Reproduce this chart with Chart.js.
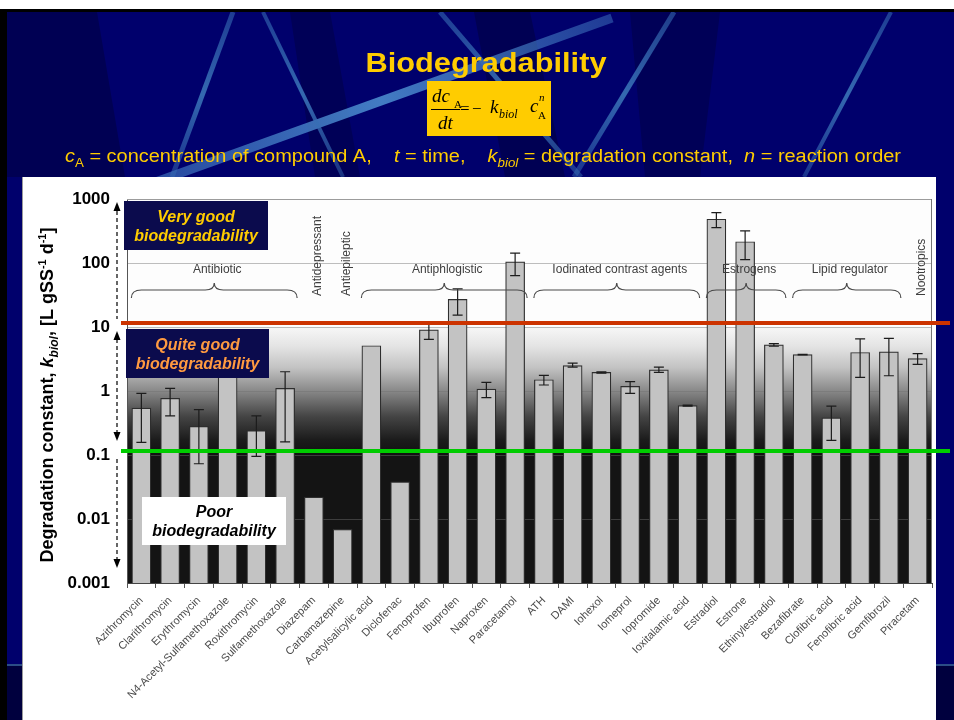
<!DOCTYPE html>
<html>
<head>
<meta charset="utf-8">
<script src="https://cdn.jsdelivr.net/npm/chart.js@4/dist/chart.umd.min.js"></script>
<style>
  html, body { margin: 0; padding: 0; background: #fff; }
  canvas { display: block; }
</style>
</head>
<body>
<canvas id="slide" width="954" height="720"></canvas>
<script>
const SANS = "Arial, 'Liberation Sans', Helvetica, sans-serif";
const SERIF = "'Times New Roman', 'Liberation Serif', serif";

const compounds = [
  "Azithromycin", "Clarithromycin", "Erythromycin", "N4-Acetyl-Sulfamethoxazole",
  "Roxithromycin", "Sulfamethoxazole", "Diazepam", "Carbamazepine",
  "Acetylsalicylic acid", "Diclofenac", "Fenoprofen", "Ibuprofen", "Naproxen",
  "Paracetamol", "ATH", "DAMI", "Iohexol", "Iomeprol", "Iopromide",
  "Ioxitalamic acid", "Estradiol", "Estrone", "Ethinylestradiol", "Bezafibrate",
  "Clofibric acid", "Fenofibric acid", "Gemfibrozil", "Piracetam",
];
// k_biol in L gSS-1 d-1
const kBiol = [
  0.54, 0.77, 0.28, 5.0, 0.24, 1.1, 0.022, 0.0069,
  5.1, 0.038, 9.0, 27, 1.07, 104, 1.5, 2.5, 1.95, 1.18, 2.14,
  0.59, 483, 215, 5.25, 3.7, 0.38, 4.0, 4.1, 3.2,
];
const errLow = [
  0.157, 0.41, 0.073, null, 0.095, 0.16, null, null,
  null, null, 6.4, 15.3, 0.79, 63.6, 1.24, 2.36, 1.9, 0.92, 1.95,
  0.58, 358, 113, 5.0, 3.65, 0.169, 1.63, 1.73, 2.6,
];
const errHigh = [
  0.92, 1.1, 0.51, null, 0.41, 2.0, null, null,
  null, null, 12, 39.5, 1.36, 143, 1.75, 2.72, 2.0, 1.4, 2.36,
  0.6, 614, 318, 5.5, 3.75, 0.58, 6.5, 6.65, 3.85,
];

const groupNames = [
  "Antibiotic", "Antidepressant", "Antiepileptic", "Antiphlogistic",
  "Iodinated contrast agents", "Estrogens", "Lipid regulator", "Nootropics",
];
const groupFirst = [0, 6, 7, 8, 14, 20, 23, 27];
const groupLast = [5, 6, 7, 13, 19, 22, 26, 27];

const yTicks = [0.001, 0.01, 0.1, 1, 10, 100, 1000];
const yTickLabels = ["0.001", "0.01", "0.1", "1", "10", "100", "1000"];
const thresholds = [10, 0.1];

// ---------- drawing helpers ----------
function drawRuns(ctx, runs, x, y, align, width) {
  let total = 0;
  runs.forEach(r => {
    ctx.font = r.font;
    r.w = ctx.measureText(r.text).width;
    total += r.w;
  });
  const sx = width ? width / total : 1;
  ctx.save();
  ctx.translate(x, y);
  ctx.scale(sx, 1);
  ctx.textAlign = "left";
  ctx.textBaseline = "alphabetic";
  let cx = align === "center" ? -total / 2 : 0;
  runs.forEach(r => {
    ctx.font = r.font;
    ctx.fillText(r.text, cx, r.dy || 0);
    cx += r.w;
  });
  ctx.restore();
}

function streak(ctx, x1, y1, x2, y2, w, color) {
  const g = ctx.createLinearGradient(x1, y1, x2, y2);
  g.addColorStop(0, color.replace("A", "0.55"));
  g.addColorStop(0.5, color.replace("A", "0.95"));
  g.addColorStop(1, color.replace("A", "0.45"));
  ctx.strokeStyle = g;
  ctx.lineWidth = w;
  ctx.lineCap = "butt";
  ctx.beginPath();
  ctx.moveTo(x1, y1);
  ctx.lineTo(x2, y2);
  ctx.stroke();
}

function facet(ctx, pts, fill) {
  ctx.fillStyle = fill;
  ctx.beginPath();
  pts.forEach(([x, y], i) => (i ? ctx.lineTo(x, y) : ctx.moveTo(x, y)));
  ctx.closePath();
  ctx.fill();
}

function drawBackdrop(ctx) {
  ctx.fillStyle = "#00006c";
  ctx.fillRect(0, 0, 954, 720);
  facet(ctx, [[7, 12], [97, 12], [125, 177], [7, 177]], "rgba(0,0,25,0.3)");
  facet(ctx, [[290, 12], [330, 12], [360, 177], [315, 177]], "rgba(0,0,25,0.25)");
  facet(ctx, [[474, 12], [530, 12], [565, 177], [505, 177]], "rgba(0,0,25,0.3)");
  facet(ctx, [[630, 12], [720, 12], [700, 177], [645, 177]], "rgba(0,0,25,0.25)");

  streak(ctx, 150, 184, 612, 18, 9, "rgba(70,130,200,A)");
  streak(ctx, 233, 12, 172, 177, 5, "rgba(55,110,180,A)");
  streak(ctx, 263, 12, 343, 177, 4, "rgba(55,110,180,A)");
  streak(ctx, 440, 12, 581, 177, 5, "rgba(55,110,180,A)");
  streak(ctx, 674, 12, 574, 177, 5, "rgba(55,110,180,A)");
  streak(ctx, 891, 12, 804, 177, 4, "rgba(55,110,180,A)");

  // lower edge strips
  ctx.fillStyle = "#00003e";
  ctx.fillRect(7, 666, 947, 54);
  ctx.fillStyle = "#2b4d86";
  ctx.fillRect(7, 664, 947, 2);

  ctx.fillStyle = "#ffffff";
  ctx.fillRect(0, 0, 954, 9);
  ctx.fillStyle = "#000000";
  ctx.fillRect(0, 9, 954, 3);
  ctx.fillRect(0, 9, 7, 711);
}

function drawPanel(ctx) {
  ctx.fillStyle = "#ffffff";
  ctx.fillRect(22, 177, 914, 543);
  ctx.fillStyle = "#9a9a9a";
  ctx.fillRect(22, 177, 1, 543);
}

function drawPlotShade(ctx, chart) {
  const a = chart.chartArea, y = chart.scales.y;
  const p10 = y.getPixelForValue(10), p01 = y.getPixelForValue(0.1);
  const g = ctx.createLinearGradient(0, p10, 0, p01);
  g.addColorStop(0, "#f7f7f7");
  g.addColorStop(0.15, "#e4e4e4");
  g.addColorStop(0.32, "#c2c2c2");
  g.addColorStop(0.5, "#888888");
  g.addColorStop(0.7, "#444444");
  g.addColorStop(0.88, "#1c1c1c");
  g.addColorStop(1, "#111111");
  ctx.fillStyle = "#fdfdfd";
  ctx.fillRect(a.left, a.top, a.width, p10 - a.top);
  ctx.fillStyle = g;
  ctx.fillRect(a.left, p10, a.width, p01 - p10);
  ctx.fillStyle = "#141414";
  ctx.fillRect(a.left, p01, a.width, a.bottom - p01);
}

function drawFrame(ctx, chart) {
  const a = chart.chartArea;
  ctx.fillStyle = "#9c9c9c";
  ctx.fillRect(a.left, a.top, a.width, 1);
  ctx.fillStyle = "#777777";
  ctx.fillRect(a.right - 1, a.top, 1, a.height);
}

function drawErrorBars(ctx, chart) {
  const xs = chart.scales.x, ys = chart.scales.y;
  ctx.strokeStyle = "#1c1c1c";
  ctx.lineWidth = 1.2;
  compounds.forEach((c, i) => {
    if (errLow[i] == null) return;
    const x = xs.getPixelForValue(i);
    const lo = ys.getPixelForValue(errLow[i]);
    const hi = ys.getPixelForValue(errHigh[i]);
    ctx.beginPath();
    ctx.moveTo(x, lo); ctx.lineTo(x, hi);
    ctx.moveTo(x - 5, lo); ctx.lineTo(x + 5, lo);
    ctx.moveTo(x - 5, hi); ctx.lineTo(x + 5, hi);
    ctx.stroke();
  });
}

function brace(ctx, x1, x2, y) {
  const m = (x1 + x2) / 2;
  ctx.beginPath();
  ctx.moveTo(x1, y + 8);
  ctx.quadraticCurveTo(x1, y, x1 + 10, y);
  ctx.lineTo(m - 9, y);
  ctx.quadraticCurveTo(m, y, m, y - 7);
  ctx.quadraticCurveTo(m, y, m + 9, y);
  ctx.lineTo(x2 - 10, y);
  ctx.quadraticCurveTo(x2, y, x2, y + 8);
  ctx.stroke();
}

function drawGroups(ctx, chart) {
  const xs = chart.scales.x;
  ctx.strokeStyle = "#4a4a4a";
  ctx.fillStyle = "#3e3e3e";
  ctx.lineWidth = 1.2;
  ctx.font = "12px " + SANS;
  groupNames.forEach((name, g) => {
    const c1 = xs.getPixelForValue(groupFirst[g]);
    const c2 = xs.getPixelForValue(groupLast[g]);
    if (groupFirst[g] === groupLast[g]) {
      ctx.save();
      ctx.translate(c1 + 4, 296);
      ctx.rotate(-Math.PI / 2);
      ctx.textAlign = "left";
      ctx.textBaseline = "middle";
      ctx.fillText(name, 0, 0);
      ctx.restore();
      return;
    }
    const x1 = c1 - 10, x2 = c2 + 12;
    brace(ctx, x1, x2, 290);
    ctx.textAlign = "center";
    ctx.textBaseline = "middle";
    ctx.fillText(name, (x1 + x2) / 2 + 3, 270);
  });
}

function drawThresholds(ctx, chart) {
  const ys = chart.scales.y;
  const colors = ["#cc3300", "#00cc00"];
  thresholds.forEach((v, i) => {
    const p = ys.getPixelForValue(v);
    ctx.fillStyle = colors[i];
    ctx.fillRect(121, p - 6, 829, 4);
  });
}

function ratingBox(ctx, x, y, w, h, fill, color, lines) {
  ctx.fillStyle = fill;
  ctx.fillRect(x, y, w, h);
  ctx.fillStyle = color;
  ctx.font = "italic bold 16px " + SANS;
  ctx.textAlign = "center";
  ctx.textBaseline = "middle";
  ctx.fillText(lines[0], x + w / 2, y + h * 0.33);
  ctx.fillText(lines[1], x + w / 2, y + h * 0.72);
}

function arrowHead(ctx, x, tip, dir) {
  ctx.beginPath();
  ctx.moveTo(x, tip);
  ctx.lineTo(x - 3.5, tip - dir * 9);
  ctx.lineTo(x + 3.5, tip - dir * 9);
  ctx.closePath();
  ctx.fill();
}

function drawArrows(ctx, chart) {
  const ys = chart.scales.y, x = 117;
  const p = v => ys.getPixelForValue(v);
  ctx.strokeStyle = "#000";
  ctx.fillStyle = "#000";
  ctx.lineWidth = 1.2;
  ctx.setLineDash([4, 3]);
  [[p(1000) + 12, p(10) - 8], [p(10) + 12, p(0.1) - 22], [p(0.1) + 4, p(0.001) - 22]].forEach(([a, b]) => {
    ctx.beginPath();
    ctx.moveTo(x, a);
    ctx.lineTo(x, b);
    ctx.stroke();
  });
  ctx.setLineDash([]);
  arrowHead(ctx, x, p(1000) + 3, -1);
  arrowHead(ctx, x, p(10) + 4, -1);
  arrowHead(ctx, x, p(0.1) - 14, 1);
  arrowHead(ctx, x, p(0.001) - 15, 1);
}

function drawYTitle(ctx) {
  ctx.save();
  ctx.translate(46, 395);
  ctx.rotate(-Math.PI / 2);
  ctx.fillStyle = "#000";
  const b = "bold 18px " + SANS, bi = "italic bold 18px " + SANS;
  drawRuns(ctx, [
    { text: "Degradation constant, ", font: b },
    { text: "k", font: bi },
    { text: "biol", font: "italic bold 12px " + SANS, dy: 5 },
    { text: ", [L gSS", font: b },
    { text: "-1", font: "bold 11px " + SANS, dy: -7 },
    { text: " d", font: b },
    { text: "-1", font: "bold 11px " + SANS, dy: -7 },
    { text: "]", font: b },
  ], 0, 6.5, "center");
  ctx.restore();
}

function drawHeader(ctx) {
  ctx.fillStyle = "#ffcc00";
  drawRuns(ctx, [{ text: "Biodegradability", font: "bold 28px " + SANS }], 486, 72, "center", 241);

  const r = "18px " + SANS, it = "italic 18px " + SANS, sub = "12px " + SANS;
  drawRuns(ctx, [
    { text: "c", font: it },
    { text: "A", font: sub, dy: 5 },
    { text: " = concentration of compound A,    ", font: r },
    { text: "t", font: it },
    { text: " = time,    ", font: r },
    { text: "k", font: it },
    { text: "biol", font: "italic 12px " + SANS, dy: 5 },
    { text: " = degradation constant,  ", font: r },
    { text: "n", font: it },
    { text: " = reaction order", font: r },
  ], 65, 162, "left", 836);

  // rate law box
  ctx.fillStyle = "#ffcc00";
  ctx.fillRect(427, 81, 124, 55);
  ctx.fillStyle = "#000";
  ctx.textAlign = "left";
  ctx.textBaseline = "alphabetic";
  const ti = "italic 19px " + SERIF;
  ctx.font = ti;
  ctx.fillText("dc", 432, 102);
  ctx.fillText("dt", 438, 129);
  ctx.fillText("k", 490, 113);
  ctx.fillText("c", 530, 112);
  ctx.font = "11px " + SERIF;
  ctx.fillText("A", 454, 108);
  ctx.fillText("A", 538, 119);
  ctx.font = "italic 11px " + SERIF;
  ctx.fillText("n", 539, 101);
  ctx.font = "italic 12px " + SERIF;
  ctx.fillText("biol", 499, 118);
  ctx.font = "17px " + SERIF;
  ctx.fillText("=", 460, 114);
  ctx.fillText("\u2212", 472, 114);
  ctx.fillRect(431, 109, 29, 1);
}

const slideDecor = {
  id: "slideDecor",
  beforeDraw(chart) {
    const ctx = chart.ctx;
    ctx.save();
    drawBackdrop(ctx);
    drawPanel(ctx);
    drawPlotShade(ctx, chart);
    ctx.restore();
  },
  afterDatasetsDraw(chart) {
    const ctx = chart.ctx;
    ctx.save();
    drawFrame(ctx, chart);
    drawErrorBars(ctx, chart);
    drawGroups(ctx, chart);
    ctx.restore();
  },
  afterDraw(chart) {
    const ctx = chart.ctx;
    ctx.save();
    drawThresholds(ctx, chart);
    ratingBox(ctx, 124, 201, 144, 49, "#0b0b4d", "#ffcc00", ["Very good", "biodegradability"]);
    ratingBox(ctx, 126, 329, 143, 49, "#0b0b4d", "#ff9a40", ["Quite good", "biodegradability"]);
    ratingBox(ctx, 142, 497, 144, 48, "#ffffff", "#000000", ["Poor", "biodegradability"]);
    drawArrows(ctx, chart);
    drawYTitle(ctx);
    drawHeader(ctx);
    ctx.restore();
  },
};

Chart.defaults.font.family = SANS;

new Chart(document.getElementById("slide").getContext("2d"), {
  type: "bar",
  data: {
    labels: compounds,
    datasets: [
      {
        data: kBiol,
        backgroundColor: "#c3c3c3",
        borderColor: "#2e2e2e",
        borderWidth: 1.2,
        barThickness: 19,
      },
    ],
  },
  options: {
    responsive: false,
    animation: false,
    layout: { padding: { top: 199, right: 22, left: 0, bottom: 0 } },
    plugins: {
      legend: { display: false },
      tooltip: { enabled: false },
    },
    scales: {
      x: {
        grid: { drawOnChartArea: false, tickLength: 5, color: "#555" },
        border: { color: "#444" },
        ticks: {
          color: "#4a4a4a",
          font: { size: 11 },
          minRotation: 45,
          maxRotation: 45,
          autoSkip: false,
          padding: 6,
        },
        afterFit: s => { s.height = 137; },
      },
      y: {
        type: "logarithmic",
        min: 0.001,
        max: 1000,
        afterBuildTicks: s => { s.ticks = yTicks.map(v => ({ value: v })); },
        ticks: {
          callback: v => yTickLabels[yTicks.indexOf(v)] ?? "",
          color: "#000",
          font: { size: 17, weight: "bold" },
          padding: 17,
        },
        grid: { color: "rgba(110,110,110,0.45)", drawTicks: false },
        border: { color: "#555" },
        afterFit: s => { s.width = 127; },
      },
    },
  },
  plugins: [slideDecor],
});
</script>
</body>
</html>
